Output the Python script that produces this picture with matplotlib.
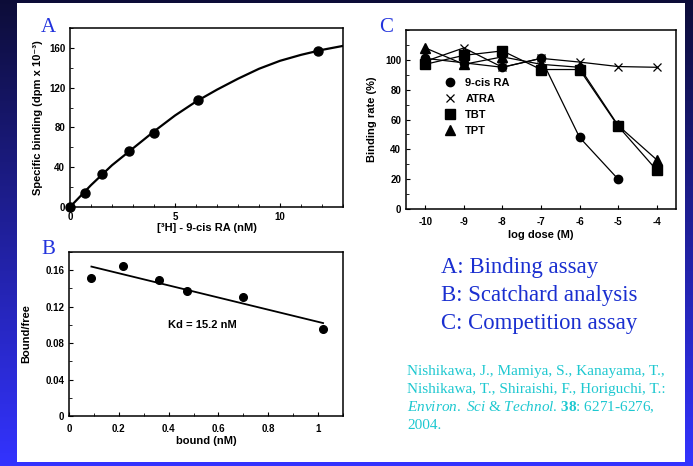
import matplotlib
matplotlib.use("Agg")
import matplotlib.pyplot as plt
import numpy as np
from matplotlib.patches import Rectangle
from matplotlib.ticker import MultipleLocator

plt.rcParams.update({
    'font.family': ['Liberation Sans', 'DejaVu Sans'],
    'font.size': 7,
    'font.weight': 'bold',
    'axes.labelweight': 'bold',
    'axes.linewidth': 1.1,
    'axes.unicode_minus': False,
    'xtick.direction': 'in',
    'ytick.direction': 'in',
    'xtick.major.size': 3,
    'ytick.major.size': 3,
    'xtick.minor.size': 2,
    'ytick.minor.size': 2,
    'mathtext.fontset': 'custom',
    'mathtext.rm': 'Liberation Serif:weight=normal',
    'mathtext.it': 'Liberation Serif:style=italic:weight=normal',
    'mathtext.bf': 'Liberation Serif:weight=bold',
})

# Panel A: saturation binding
a_conc = [0, 0.7, 1.5, 2.8, 4.0, 6.1, 11.8]
a_bound = [0, 14, 33, 56, 74, 108, 157]
a_fit_x = [0, 1, 2, 3, 4, 5, 6, 7, 8, 9, 10, 11, 12, 13]
a_fit_y = [0, 22, 42, 59, 76, 92, 106, 118, 129, 139, 147, 153, 158, 162]

# Panel B: Scatchard
b_bound = [0.09, 0.215, 0.36, 0.475, 0.70, 1.02]
b_ratio = [0.151, 0.165, 0.149, 0.137, 0.131, 0.096]
b_fit_x = [0.09, 1.02]
b_fit_y = [0.164, 0.102]

# Panel C: competition
c_dose = [-10, -9, -8, -7, -6, -5, -4]
c_9cis = [101, 98, 95, 101, 48, 20]
c_atra = [99, 108, 95, 101, 98.5, 95.5, 95]
c_tbt = [97, 103, 106, 93.5, 93.5, 55.5, 26]
c_tpt = [108, 97, 102, 97, 95, 56, 33]

W, H = 693, 466
fig = plt.figure(figsize=(W / 100, H / 100), dpi=100)

# slide background: dark navy at top fading into bright blue
bg = fig.add_axes([0, 0, 1, 1], zorder=-10)
grad = np.linspace(0, 1, 256).reshape(-1, 1)
top = np.array([0.05, 0.05, 0.22])
bot = np.array([0.20, 0.20, 1.00])
img = top + (bot - top) * grad[..., None]
bg.imshow(img, aspect='auto', extent=[0, 1, 0, 1], origin='upper')
bg.add_patch(Rectangle((17 / W, 1 - 462 / H), (685 - 17) / W, (462 - 3) / H,
                       facecolor='white', edgecolor='none'))
bg.set_xlim(0, 1)
bg.set_ylim(0, 1)
bg.axis('off')


def px_axes(x0, y0, x1, y1):
    return fig.add_axes([x0 / W, 1 - y1 / H, (x1 - x0) / W, (y1 - y0) / H])


ms = 6.5

# ---- A ----
axA = px_axes(70, 28, 343, 207)
axA.plot(a_fit_x, a_fit_y, color='black', lw=1.6, zorder=2)
axA.plot(a_conc, a_bound, 'o', color='black', ms=ms, zorder=3, clip_on=False)
axA.set_xlim(0, 13)
axA.set_ylim(0, 180)
axA.set_xticks([0, 5, 10])
axA.xaxis.set_minor_locator(MultipleLocator(1))
axA.set_yticks([0, 40, 80, 120, 160])
axA.yaxis.set_minor_locator(MultipleLocator(20))
axA.set_xlabel('[³H] - 9-cis RA (nM)', fontsize=8, labelpad=1)
axA.set_ylabel('Specific binding (dpm x 10⁻³)', fontsize=8, labelpad=4)

# ---- B ----
axB = px_axes(69, 252, 343, 416)
axB.plot(b_fit_x, b_fit_y, color='black', lw=1.3)
axB.plot(b_bound, b_ratio, 'o', color='black', ms=5.5)
axB.set_xlim(0, 1.1)
axB.set_ylim(0, 0.18)
axB.set_xticks([0, 0.2, 0.4, 0.6, 0.8, 1])
axB.set_xticklabels(['0', '0.2', '0.4', '0.6', '0.8', '1'])
axB.xaxis.set_minor_locator(MultipleLocator(0.1))
axB.set_yticks([0, 0.04, 0.08, 0.12, 0.16])
axB.set_yticklabels(['0', '0.04', '0.08', '0.12', '0.16'])
axB.yaxis.set_minor_locator(MultipleLocator(0.02))
axB.tick_params(axis='x', pad=6)
axB.set_xlabel('bound (nM)', fontsize=8, labelpad=1)
axB.set_ylabel('Bound/free', fontsize=8, labelpad=10)
axB.text(0.535, 0.0995, 'Kd = 15.2 nM', ha='center', va='center', fontsize=8)

# ---- C ----
axC = px_axes(406, 30, 676, 209)
kw = dict(color='black', lw=0.9)
axC.plot(c_dose[:len(c_9cis)], c_9cis, marker='o', ms=6, label='9-cis RA', **kw)
axC.plot(c_dose, c_atra, marker='x', ms=6, mew=0.9, label='ATRA', **kw)
axC.plot(c_dose, c_tbt, marker='s', ms=6.5, label='TBT', **kw)
axC.plot(c_dose, c_tpt, marker='^', ms=6.5, label='TPT', **kw)
axC.set_xlim(-10.5, -3.5)
axC.set_ylim(0, 120)
axC.set_xticks(c_dose)
axC.set_yticks([0, 20, 40, 60, 80, 100])
axC.yaxis.set_minor_locator(MultipleLocator(10))
axC.tick_params(axis='x', pad=6)
axC.set_xlabel('log dose (M)', fontsize=8, labelpad=2)
axC.set_ylabel('Binding rate (%)', fontsize=8, labelpad=6)
leg = axC.legend(loc='upper left', bbox_to_anchor=(0.1, 0.79), frameon=False,
                 fontsize=8, handlelength=1.2, handletextpad=0.8,
                 labelspacing=0.55)
for h in leg.legend_handles:
    h.set_linestyle('none')

# panel letters
serif = ['Liberation Serif', 'DejaVu Serif']
letter_col = '#2233dd'
for x, y, s in [(48, 27, 'A'), (48, 250, 'B'), (386, 27, 'C')]:
    fig.text(x / W, 1 - y / H, s, family=serif, color=letter_col,
             fontsize=15, weight='normal', ha='center', va='center')

# summary text
blue = '#1a2fd0'
for i, s in enumerate(['A: Binding assay', 'B: Scatchard analysis',
                       'C: Competition assay']):
    fig.text(441 / W, 1 - (268 + 27.5 * i) / H, s, family=serif, color=blue,
             fontsize=16.4, weight='normal', va='center')

# citation
cyan = '#1ec8d0'
cite_y = [371, 389.5, 407.5, 425.5]
cite_lines = ['Nishikawa, J., Mamiya, S., Kanayama, T.,',
              'Nishikawa, T., Shiraishi, F., Horiguchi, T.:',
              r'$\it{Environ.\ Sci\ &\ Technol}$. $\bf{38}$: 6271-6276,',
              '2004.']
for y, s in zip(cite_y, cite_lines):
    fig.text(407 / W, 1 - y / H, s, family=serif, color=cyan,
             fontsize=11, weight='normal', va='center')

fig.savefig('out.png', dpi=100)
